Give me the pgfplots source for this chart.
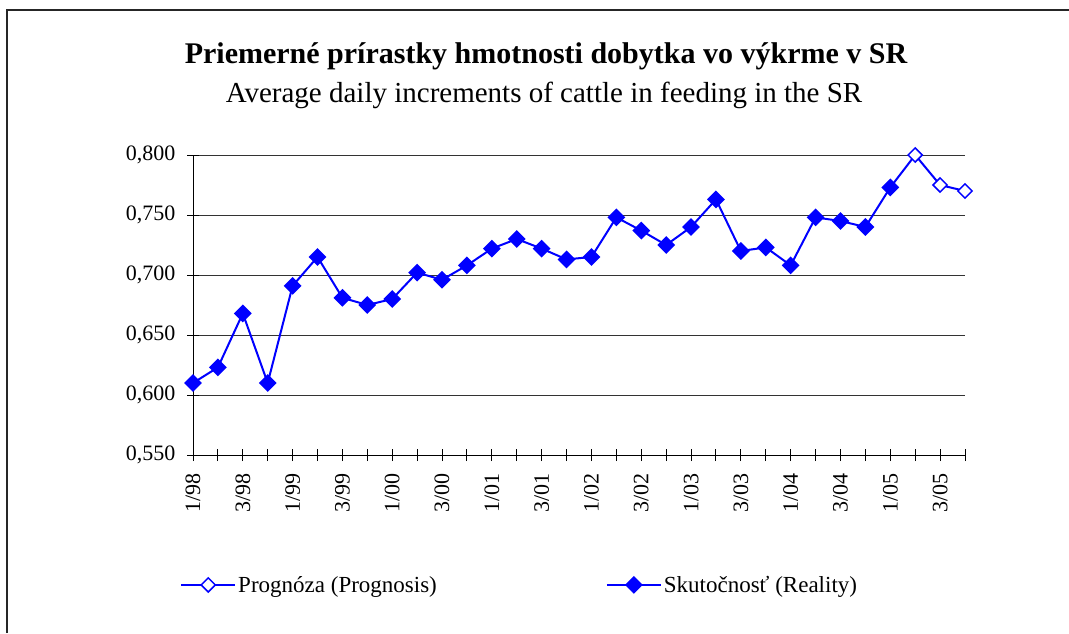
\documentclass[border=0pt]{standalone}
\usepackage{fontspec}
\setmainfont{Liberation Serif}
\usepackage{pgfplots}
\pgfplotsset{compat=1.18}
\definecolor{ser}{RGB}{0,0,255}
\begin{document}
\begin{tikzpicture}[x=1pt,y=1pt]
\path[use as bounding box] (0,0) rectangle (1069,633);
\draw[line width=1.5pt, black!85] (7,0) -- (7,623) -- (1069,623);
\node[font=\fontsize{30}{34}\selectfont\bfseries, anchor=base, inner sep=0pt] at (546,569) {Priemerné prírastky hmotnosti dobytka vo výkrme v SR};
\node[font=\fontsize{29}{33}\selectfont, anchor=base, inner sep=0pt] at (544,530) {Average daily increments of cattle in feeding in the SR};
\begin{axis}[at={(193pt,178pt)}, anchor=south west, scale only axis, width=772pt, height=300pt,
  xmin=0, xmax=31, ymin=0.55, ymax=0.8,
  axis x line=bottom, axis y line=left,
  axis line style={-, line width=1pt, black},
  xtick={0,...,31},
  xticklabels={1/98,,3/98,,1/99,,3/99,,1/00,,3/00,,1/01,,3/01,,1/02,,3/02,,1/03,,3/03,,1/04,,3/04,,1/05,,3/05,},
  ytick={0.55,0.6,0.65,0.7,0.75,0.8},
  ymajorgrids, grid style={black!80, line width=1pt},
  major tick length=12pt, tick align=center, tick style={black, line width=1pt},
  xticklabel shift=9pt, yticklabel shift=8pt,
  x tick label style={rotate=90, anchor=east, font=\fontsize{22}{24}\selectfont},
  y tick label style={font=\fontsize{22}{24}\selectfont},
  yticklabel style={/pgf/number format/.cd, fixed, fixed zerofill, precision=3, use comma, assume math mode=true},
  clip=false,
  legend style={at={(axis description cs:-0.0168,-0.433)}, anchor=west, draw=none, fill=none, inner sep=0pt, font=\fontsize{23}{25}\selectfont, legend columns=2, /tikz/every even column/.append style={column sep=167pt}},
  legend cell align=left,
  legend image code/.code={\draw[mark repeat=2,mark phase=2,#1] plot coordinates {(0pt,0pt) (27pt,0pt) (54pt,0pt)};},
]
\addplot[ser, line width=2pt, mark=square*, mark size=5pt, mark options={rotate=45, fill=white, line width=1.5pt}] coordinates {
(28,0.773) (29,0.800) (30,0.775) (31,0.770)};
\addlegendentry{Prognóza (Prognosis)}
\addplot[ser, line width=2pt, mark=square*, mark size=5.3pt, mark options={rotate=45, fill=ser}] coordinates {
(0,0.610) (1,0.623) (2,0.668) (3,0.610)
(4,0.691) (5,0.715) (6,0.681) (7,0.675)
(8,0.680) (9,0.702) (10,0.696) (11,0.708)
(12,0.722) (13,0.730) (14,0.722) (15,0.713)
(16,0.715) (17,0.748) (18,0.737) (19,0.725)
(20,0.740) (21,0.763) (22,0.720) (23,0.723)
(24,0.708) (25,0.748) (26,0.745) (27,0.740)
(28,0.773)};
\addlegendentry{Skutočnosť (Reality)}
\end{axis}
\end{tikzpicture}
\end{document}
